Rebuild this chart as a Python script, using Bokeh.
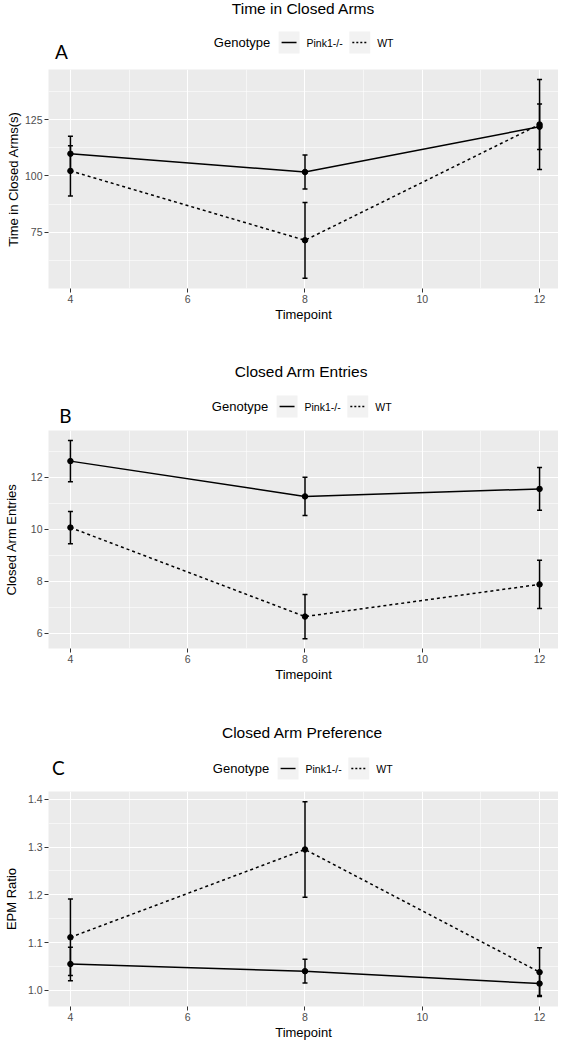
from bokeh.plotting import figure
from bokeh.models import (ColumnDataSource, Whisker, TeeHead, FixedTicker,
                          PrintfTickFormatter, BasicTickFormatter, Range1d)
from bokeh.core.properties import value
from bokeh.layouts import column
from bokeh.embed import file_html
from bokeh.resources import INLINE

# ---------------- data ----------------
timepoints = [4, 8, 12]
genotypes = ["Pink1-/-", "WT"]

time_pink = [109.8, 101.7, 121.8]
time_pink_se = [7.8, 7.5, 10.1]
time_wt = [102.2, 71.4, 122.8]
time_wt_se = [11.2, 16.8, 20.0]

entries_pink = [12.63, 11.27, 11.56]
entries_pink_se = [0.79, 0.74, 0.82]
entries_wt = [10.07, 6.64, 7.88]
entries_wt_se = [0.62, 0.85, 0.93]

ratio_pink = [1.055, 1.040, 1.014]
ratio_pink_se = [0.035, 0.025, 0.025]
ratio_wt = [1.111, 1.295, 1.038]
ratio_wt_se = [0.080, 0.100, 0.051]

x_ticks = [4, 6, 8, 10, 12]
x_minor = [5, 7, 9, 11]
time_ticks = [75, 100, 125]
time_minor = [62.5, 87.5, 112.5, 137.5]
entries_ticks = [6, 8, 10, 12]
entries_minor = [7, 9, 11, 13]
ratio_ticks = [1.0, 1.1, 1.2, 1.3, 1.4]
ratio_minor = [1.05, 1.15, 1.25, 1.35]

FONT = "Liberation Sans"
W = 558      # total width
L = 46       # left border (frame starts here in every figure)


def make_header(title, letter, height, cx, title_y, legend_y, letter_x, letter_y):
    h = figure(width=W, height=height, x_range=Range1d(L, W), y_range=Range1d(height, 0),
               output_backend="svg", toolbar_location=None, title=None,
               min_border_left=L, min_border_right=0, min_border_top=0,
               min_border_bottom=0, x_axis_location=None, y_axis_location=None,
               outline_line_color=None, background_fill_color="white",
               border_fill_color="white")
    h.grid.visible = False
    h.text(x=[cx], y=[title_y], text=[title], text_font=value(FONT),
           text_font_size="15.5px", text_align="center", text_baseline="middle",
           text_color="black")
    h.text(x=[letter_x], y=[letter_y], text=[letter], text_font=value("Lato"),
           text_font_size="19px", text_align="center", text_baseline="middle",
           text_color="black")
    # legend: "Genotype" title, two grey keys with line samples, labels
    h.text(x=[cx - 90], y=[legend_y], text=["Genotype"], text_font=value(FONT),
           text_font_size="13px", text_align="left", text_baseline="middle",
           text_color="black")
    key_x = [cx - 14.5, cx + 56.5]
    h.rect(x=key_x, y=[legend_y, legend_y], width=21, height=22,
           fill_color="#F2F2F2", line_color=None)
    h.segment(x0=[key_x[0] - 7.5], y0=[legend_y], x1=[key_x[0] + 7.5], y1=[legend_y],
              line_color="black", line_width=1.4)
    h.segment(x0=[key_x[1] - 7.5], y0=[legend_y], x1=[key_x[1] + 7.5], y1=[legend_y],
              line_color="black", line_width=1.4, line_dash="2 2")
    h.text(x=[cx + 3, cx + 74], y=[legend_y, legend_y], text=genotypes,
           text_font=value(FONT), text_font_size="10.5px", text_align="left",
           text_baseline="middle", text_color="black")
    return h


def make_panel(ylabel, pink, pink_se, wt, wt_se, yr, yticks, yminor, height, bottom,
               fmt, ylabel_standoff):
    p = figure(width=W, height=height, x_range=Range1d(3.626, 12.323), y_range=Range1d(*yr),
               output_backend="svg", toolbar_location=None, title=None,
               min_border_top=0, min_border_bottom=bottom, min_border_left=L,
               min_border_right=0, background_fill_color="#EBEBEB",
               border_fill_color="white", outline_line_color=None)

    xt = FixedTicker(ticks=x_ticks, minor_ticks=x_minor)
    yt = FixedTicker(ticks=yticks, minor_ticks=yminor)
    p.xaxis.ticker = xt
    p.xgrid.ticker = xt
    p.yaxis.ticker = yt
    p.ygrid.ticker = yt
    p.yaxis.formatter = fmt

    for g in (p.xgrid, p.ygrid):
        g.grid_line_color = "white"
        g.grid_line_width = 1.1
        g.minor_grid_line_color = "white"
        g.minor_grid_line_width = 0.55

    for ax in (p.xaxis, p.yaxis):
        ax.axis_line_color = None
        ax.major_tick_line_color = "#333333"
        ax.major_tick_line_width = 1
        ax.major_tick_out = 4
        ax.major_tick_in = 0
        ax.minor_tick_line_color = None
        ax.major_label_text_color = "#4D4D4D"
        ax.major_label_text_font_size = "10.5px"
        ax.major_label_text_font = FONT
        ax.major_label_standoff = 2
        ax.axis_label_text_font_size = "13px"
        ax.axis_label_text_font = FONT
        ax.axis_label_text_font_style = "normal"
        ax.axis_label_text_color = "black"
    p.xaxis.axis_label = "Timepoint"
    p.xaxis.axis_label_standoff = 1
    p.yaxis.axis_label = ylabel
    p.yaxis.axis_label_standoff = ylabel_standoff

    for vals, se, dash in ((pink, pink_se, "solid"), (wt, wt_se, "3 3")):
        src = ColumnDataSource(dict(x=timepoints, y=vals,
                                    upper=[v + s for v, s in zip(vals, se)],
                                    lower=[v - s for v, s in zip(vals, se)]))
        wh = Whisker(source=src, base="x", upper="upper", lower="lower",
                     line_color="black", line_width=1.5,
                     upper_head=TeeHead(size=5, line_color="black", line_width=1.5),
                     lower_head=TeeHead(size=5, line_color="black", line_width=1.5))
        p.add_layout(wh)
        p.line("x", "y", source=src, line_color="black", line_width=1.5, line_dash=dash)
        p.scatter("x", "y", source=src, size=5.5, color="black")
    return p


hA = make_header("Time in Closed Arms", "A", 69, 302, 8, 42, 59, 51)
pA = make_panel("Time in Closed Arms(s)", time_pink, time_pink_se, time_wt, time_wt_se,
                (50, 147.2), time_ticks, time_minor, 271, 52, BasicTickFormatter(), 1)
hB = make_header("Closed Arm Entries", "B", 90, 300, 31, 66, 63, 75)
pB = make_panel("Closed Arm Entries", entries_pink, entries_pink_se, entries_wt,
                entries_wt_se, (5.41, 13.81), entries_ticks, entries_minor, 270, 52,
                BasicTickFormatter(), 9)
hC = make_header("Closed Arm Preference", "C", 91, 301, 32, 68, 56, 67)
pC = make_panel("EPM Ratio", ratio_pink, ratio_pink_se, ratio_wt, ratio_wt_se,
                (0.966, 1.4165), ratio_ticks, ratio_minor, 251, 32,
                PrintfTickFormatter(format="%.1f"), 6)

layout = column(hA, pA, hB, pB, hC, pC, spacing=0)
open("out.html", "w").write(file_html(layout, INLINE))
